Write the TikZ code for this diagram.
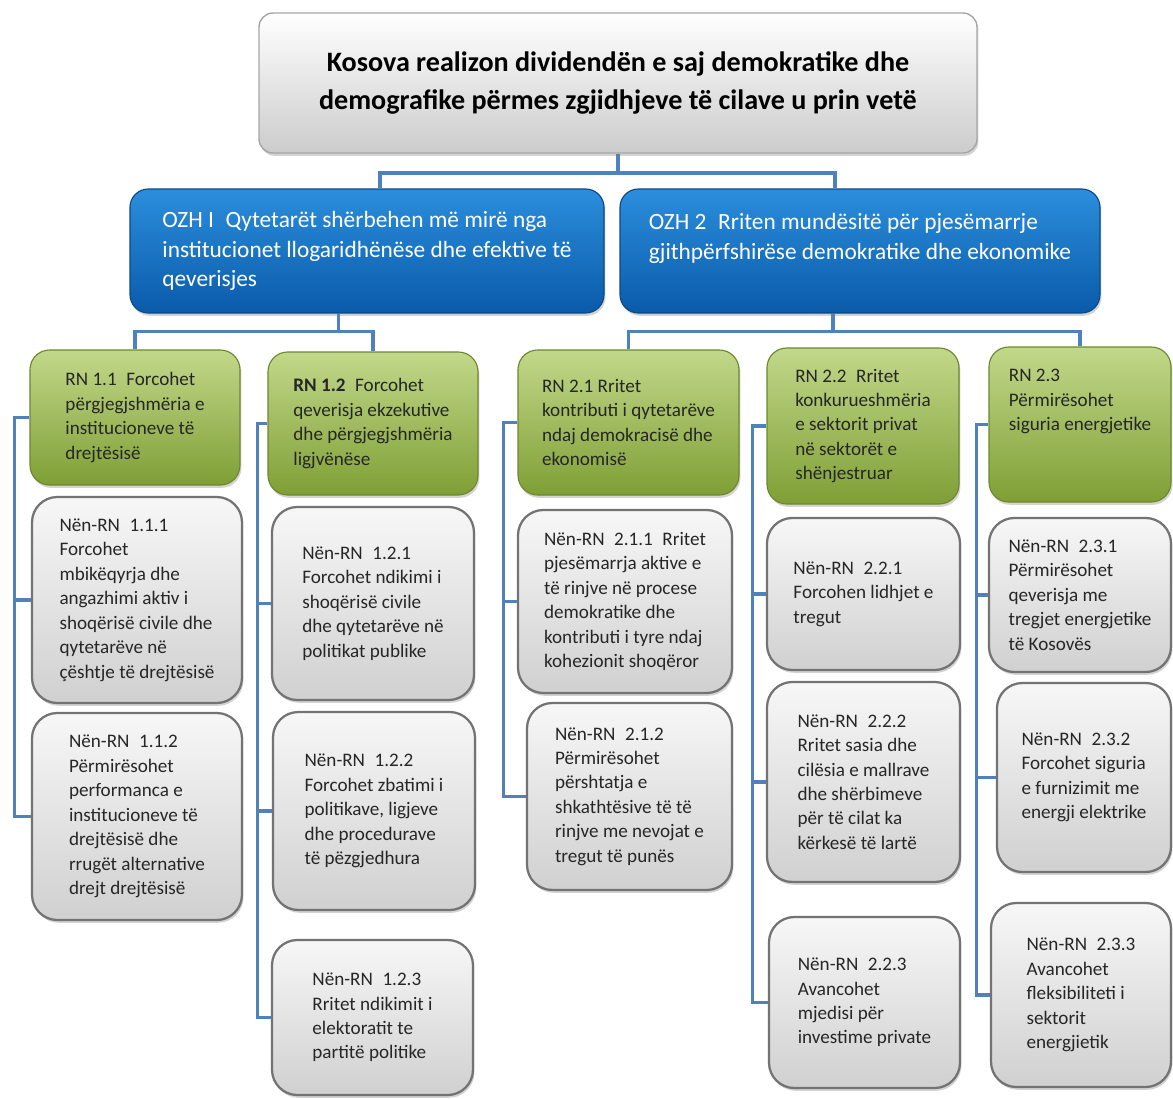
\documentclass[tikz,border=0pt]{standalone}
\usepackage{fontspec}
\setmainfont{Carlito}
\usetikzlibrary{calc,shadows}
\definecolor{linkblue}{HTML}{4F81BD}
\definecolor{ozhtop}{HTML}{2B8EDC}
\definecolor{ozhbot}{HTML}{0A5BAA}
\definecolor{rntop}{HTML}{C2D88A}
\definecolor{rnbot}{HTML}{7F9F35}
\definecolor{nentop}{HTML}{F7F7F7}
\definecolor{nenbot}{HTML}{D0D0D0}
\tikzset{
	sz/.style 2 args={minimum width=#1*0.025cm, minimum height=#2*0.025cm},
	shade/.style={drop shadow={opacity=0.35, shadow xshift=1pt, shadow yshift=-2pt}},
	goalbox/.style={shade, rounded corners=10pt, top color=white, bottom color=black!20, draw=black!35, line width=1pt, inner sep=0pt, align=center, font=\fontsize{20}{27}\selectfont\bfseries},
	ozhbox/.style={shade, rounded corners=13pt, top color=ozhtop, bottom color=ozhbot, draw=ozhbot!80!black, line width=0.8pt, inner sep=0pt, align=left, text=white, font=\fontsize{16.6}{21}\selectfont},
	rnbox/.style={shade, rounded corners=14pt, top color=rntop, bottom color=rnbot, draw=rnbot!85!black, line width=0.8pt, inner sep=0pt, align=left, text=black!85, font=\fontsize{13.6}{17.4}\selectfont},
	nenbox/.style={shade, rounded corners=18pt, top color=nentop, bottom color=nenbot, draw=black!55, line width=1.6pt, inner sep=0pt, align=left, text=black!85, font=\fontsize{13.6}{17.4}\selectfont},
	link/.style={draw=linkblue, line width=2.6pt},
}

\begin{document}
\begin{tikzpicture}[x=0.025cm, y=-0.025cm]
			%%%%% START %%%%%
			\useasboundingbox (0, 0) rectangle (1173, 1099);
			
			% goal and the two objectives
			\node[goalbox, sz={718}{140}] (goal) at (618, 83) {Kosova realizon dividendën e saj demokratike dhe\\demografike përmes zgjidhjeve të cilave u prin vetë};
			\node[ozhbox, sz={474}{124}] (ozh1) at (367, 251) {OZH I\enspace Qytetarët shërbehen më mirë nga\\institucionet llogaridhënëse dhe efektive të\\qeverisjes};
			\node[ozhbox, sz={480}{124}] (ozh2) at (860, 251) {OZH 2\enspace Rriten mundësitë për pjesëmarrje\\gjithpërfshirëse demokratike dhe ekonomike\\~};
			
			% results
			\node[rnbox, sz={210}{135}] (rn11) at (135, 417.5) {RN 1.1\enspace Forcohet\\përgjegjshmëria e\\institucioneve të\\drejtësisë};
			\node[rnbox, sz={210}{143}] (rn12) at (373, 423.5) {\textbf{RN 1.2}\enspace Forcohet\\qeverisja ekzekutive\\dhe përgjegjshmëria\\ligjvënëse};
			\node[rnbox, sz={221}{145}] (rn21) at (628.5, 422.5) {RN 2.1 Rritet\\kontributi i qytetarëve\\ndaj demokracisë dhe\\ekonomisë};
			\node[rnbox, sz={192}{156}] (rn22) at (863, 426) {RN 2.2\enspace Rritet\\konkurueshmëria\\e sektorit privat\\në sektorët e\\shënjestruar};
			\node[rnbox, sz={182}{155}] (rn23) at (1080, 424.5) {RN 2.3\\Përmirësohet\\siguria energjetike\\~\\~};
			
			% sub-results
			\node[nenbox, sz={210}{206}] (s111) at (137, 600) {Nën-RN\enspace 1.1.1\\Forcohet\\mbikëqyrja dhe\\angazhimi aktiv i\\shoqërisë civile dhe\\qytetarëve në\\çështje të drejtësisë};
			\node[nenbox, sz={210}{207}] (s112) at (137, 816.5) {Nën-RN\enspace 1.1.2\\Përmirësohet\\performanca e\\institucioneve të\\drejtësisë dhe\\rrugët alternative\\drejt drejtësisë};
			\node[nenbox, sz={202}{193}] (s121) at (373, 603.5) {Nën-RN\enspace 1.2.1\\Forcohet ndikimi i\\shoqërisë civile\\dhe qytetarëve në\\politikat publike};
			\node[nenbox, sz={202}{198}] (s122) at (374, 811) {Nën-RN\enspace 1.2.2\\Forcohet zbatimi i\\politikave, ligjeve\\dhe procedurave\\të pëzgjedhura};
			\node[nenbox, sz={201}{155}] (s123) at (372.5, 1017.5) {Nën-RN\enspace 1.2.3\\Rritet ndikimit i\\elektoratit te\\partitë politike};
			\node[nenbox, sz={214}{183}] (s211) at (625, 601.5) {Nën-RN\enspace 2.1.1\enspace Rritet\\pjesëmarrja aktive e\\të rinjve në procese\\demokratike dhe\\kontributi i tyre ndaj\\kohezionit shoqëror};
			\node[nenbox, sz={205}{187}] (s212) at (629.5, 796.5) {Nën-RN\enspace 2.1.2\\Përmirësohet\\përshtatja e\\shkathtësive të të\\rinjve me nevojat e\\tregut të punës};
			\node[nenbox, sz={193}{152}] (s221) at (863.5, 594) {Nën-RN\enspace 2.2.1\\Forcohen lidhjet e\\tregut};
			\node[nenbox, sz={193}{200}] (s222) at (863.5, 782) {Nën-RN\enspace 2.2.2\\Rritet sasia dhe\\cilësia e mallrave\\dhe shërbimeve\\për të cilat ka\\kërkesë të lartë};
			\node[nenbox, sz={191}{171}] (s223) at (864.5, 1002.5) {Nën-RN\enspace 2.2.3\\Avancohet\\mjedisi për\\investime private};
			\node[nenbox, sz={182}{154}] (s231) at (1080, 595) {Nën-RN\enspace 2.3.1\\Përmirësohet\\qeverisja me\\tregjet energjetike\\të Kosovës};
			\node[nenbox, sz={174}{189}] (s232) at (1084, 777.5) {Nën-RN\enspace 2.3.2\\Forcohet siguria\\e furnizimit me\\energji elektrike};
			\node[nenbox, sz={180}{184}] (s233) at (1081, 995) {Nën-RN\enspace 2.3.3\\Avancohet\\fleksibiliteti i\\sektorit\\energjietik};
			
			% goal -> objectives
			\draw[link] (goal.south) -- ++(0, 19) coordinate (j0);
			\draw[link] ($(ozh1.north west)!0.527!(ozh1.north east)$) |- (j0) -| ($(ozh2.north west)!0.448!(ozh2.north east)$);
			
			% objectives -> results
			\draw[link] ($(ozh1.south west)!0.44!(ozh1.south east)$) -- ++(0, 18) coordinate (j1);
			\draw[link] (rn11.north) |- (j1) -| (rn12.north);
			\draw[link] ($(ozh2.south west)!0.444!(ozh2.south east)$) -- ++(0, 18) coordinate (j2);
			\draw[link] (rn21.north) |- (j2) -| (rn23.north);
			
			% results -> sub-results
			\draw[link] (rn11.west) -- ++(-15, 0) coordinate (b11) |- (s112.west);
			\draw[link] (s111.west) -- (b11 |- s111.west);
			
			\draw[link] (rn12.west) -- ++(-10, 0) coordinate (b12) |- (s123.west);
			\draw[link] (s121.west) -- (b12 |- s121.west);
			\draw[link] (s122.west) -- (b12 |- s122.west);
			
			\draw[link] (rn21.west) -- ++(-14, 0) coordinate (b21) |- (s212.west);
			\draw[link] (s211.west) -- (b21 |- s211.west);
			
			\draw[link] (rn22.west) -- ++(-14, 0) coordinate (b22) |- (s223.west);
			\draw[link] (s221.west) -- (b22 |- s221.west);
			\draw[link] (s222.west) -- (b22 |- s222.west);
			
			\draw[link] (rn23.west) -- ++(-12, 0) coordinate (b23) |- (s233.west);
			\draw[link] (s231.west) -- (b23 |- s231.west);
			\draw[link] (s232.west) -- (b23 |- s232.west);
			
			%%%%% END %%%%%
\end{tikzpicture}
\end{document}
